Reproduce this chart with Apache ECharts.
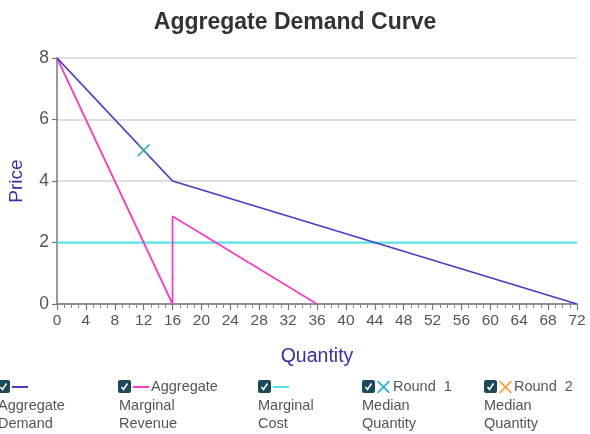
<!DOCTYPE html>
<html>
<head>
<meta charset="utf-8">
<script src="https://cdn.jsdelivr.net/npm/echarts@6/dist/echarts.min.js"></script>
<style>html,body{margin:0;padding:0;background:#fff}#c{width:590px;height:434px}</style>
</head>
<body>
<div id="c"></div>
<script>
const demandQ = [0, 16, 72];
const demandP = [8, 4, 0];
const mrQ = [0, 16, 16, 36];
const mrP = [8, 0, 2.857, 0];
const mcQ = [0, 72];
const mcP = [2, 2];
const round1Q = [12];
const round1P = [5];
const round2Q = [];
const round2P = [];
const xTicks = [0, 4, 8, 12, 16, 20, 24, 28, 32, 36, 40, 44, 48, 52, 56, 60, 64, 68, 72];
const yTicks = [0, 2, 4, 6, 8];
const legendNames = ['Aggregate Demand', 'Aggregate Marginal Revenue', 'Marginal Cost', 'Round 1 Median Quantity', 'Round 2 Median Quantity'];

const FONT = '"Liberation Sans", Arial, sans-serif';
const C_DEM = '#4a3cc8', C_MR = '#f53fc4', C_MC = '#4fe6ea', C_R1 = '#2fb3d6', C_R2 = '#f5a43a';
const XPATH = 'path://M0,1L1,0L5,4L9,0L10,1L6,5L10,9L9,10L5,6L1,10L0,9L4,5Z';
const XPTS = [[0,1],[1,0],[5,4],[9,0],[10,1],[6,5],[10,9],[9,10],[5,6],[1,10],[0,9],[4,5]];

function pairs(a, b) { return a.map((v, i) => [v, b[i]]); }

const chart = echarts.init(document.getElementById('c'), null, {renderer: 'canvas'});

function checkbox(x, y) {
  return [
    {type: 'rect', shape: {x: x, y: y, width: 13, height: 13, r: 2}, style: {fill: '#1d4a5a'}},
    {type: 'polyline', shape: {points: [[x + 3.5, y + 7], [x + 5.5, y + 9.5], [x + 9.5, y + 3.5]]}, style: {stroke: '#fff', lineWidth: 1.6, fill: null}}
  ];
}
function lineIcon(x, y, color) {
  return {type: 'line', shape: {x1: x, y1: y, x2: x + 16, y2: y}, style: {stroke: color, lineWidth: 2}};
}
function xIcon(x, y, color) {
  const s = 1.3;
  return {type: 'polygon', shape: {points: XPTS.map(p => [x + p[0] * s, y - 6.5 + p[1] * s])}, style: {fill: color}};
}
function txt(x, y, s) {
  return {type: 'text', x: x, y: y, style: {text: s, fill: '#555', font: '14.5px ' + FONT, textVerticalAlign: 'middle'}};
}
const LY = 387, L2 = 406, L3 = 424;
const items = [];
items.push(...checkbox(-3, LY - 7), lineIcon(12, LY, C_DEM), txt(-2, L2, 'Aggregate'), txt(-2, L3, 'Demand'));
items.push(...checkbox(118, LY - 7), lineIcon(133, LY, C_MR), txt(151, LY, 'Aggregate'), txt(119, L2, 'Marginal'), txt(119, L3, 'Revenue'));
items.push(...checkbox(258, LY - 7), lineIcon(273, LY, C_MC), txt(258, L2, 'Marginal'), txt(258, L3, 'Cost'));
items.push(...checkbox(362, LY - 7), xIcon(377, LY, C_R1), txt(393, LY, 'Round  1'), txt(362, L2, 'Median'), txt(362, L3, 'Quantity'));
items.push(...checkbox(484, LY - 7), xIcon(499, LY, C_R2), txt(514, LY, 'Round  2'), txt(484, L2, 'Median'), txt(484, L3, 'Quantity'));

const option = {
  backgroundColor: '#fff',
  animation: false,
  title: {
    text: 'Aggregate Demand Curve', left: 'center', top: 6,
    textStyle: {fontFamily: FONT, fontSize: 23, fontWeight: 'bold', color: '#333'}
  },
  grid: {left: 57, right: 13, top: 58, bottom: 130, containLabel: false, outerBoundsMode: 'none'},
  xAxis: {
    type: 'value', min: xTicks[0], max: xTicks[xTicks.length - 1], interval: 4,
    name: 'Quantity', nameLocation: 'middle', nameGap: 43,
    nameTextStyle: {fontFamily: FONT, fontSize: 19.5, color: '#3a2fa8'},
    axisLine: {show: true, lineStyle: {color: '#777', width: 1.5}},
    axisTick: {show: true, length: 6, lineStyle: {color: '#777', width: 1.2}},
    minorTick: {show: true, splitNumber: 4, length: 4, lineStyle: {color: '#888', width: 1}},
    axisLabel: {fontFamily: FONT, fontSize: 15.5, color: '#555', margin: 9},
    splitLine: {show: false}
  },
  yAxis: {
    type: 'value', min: yTicks[0], max: yTicks[yTicks.length - 1], interval: 2,
    name: 'Price', nameLocation: 'middle', nameGap: 31,
    nameTextStyle: {fontFamily: FONT, fontSize: 19, color: '#3a2fa8'},
    axisLine: {show: true, lineStyle: {color: '#777', width: 1.5}},
    axisTick: {show: true, length: 5, lineStyle: {color: '#777', width: 1.2}},
    axisLabel: {fontFamily: FONT, fontSize: 17.5, color: '#555', margin: 8},
    splitLine: {show: true, lineStyle: {color: '#d4d4d4', width: 1.5}}
  },
  series: [
    {name: legendNames[2], type: 'line', data: pairs(mcQ, mcP), showSymbol: false, lineStyle: {color: C_MC, width: 2}, z: 2},
    {name: legendNames[1], type: 'line', data: pairs(mrQ, mrP), showSymbol: false, lineStyle: {color: C_MR, width: 1.8}, z: 3},
    {name: legendNames[0], type: 'line', data: pairs(demandQ, demandP), showSymbol: false, lineStyle: {color: C_DEM, width: 1.8}, z: 4},
    {name: legendNames[3], type: 'scatter', data: pairs(round1Q, round1P), symbol: XPATH, symbolSize: 13, itemStyle: {color: '#3aa6c0', opacity: 0.9}, z: 5},
    {name: legendNames[4], type: 'scatter', data: pairs(round2Q, round2P), symbol: XPATH, symbolSize: 13, itemStyle: {color: C_R2}, z: 5}
  ],
  graphic: items
};
chart.setOption(option);
</script>
</body>
</html>
